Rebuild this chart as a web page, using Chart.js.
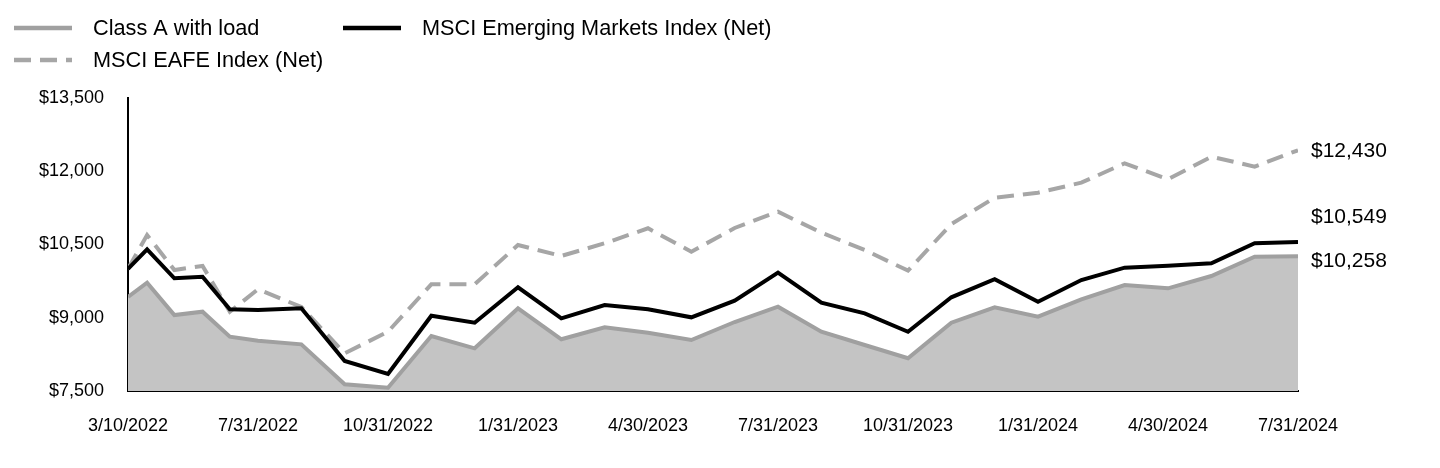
<!DOCTYPE html>
<html><head><meta charset="utf-8">
<script src="https://cdn.jsdelivr.net/npm/chart.js@4.4.1/dist/chart.umd.min.js"></script>
<style>
html,body{margin:0;padding:0;background:#fff;}
#wrap{position:relative;width:1440px;height:468px;}
canvas{display:block;}
</style></head><body>
<div id="wrap"><canvas id="c" width="1440" height="468"></canvas></div>
<script>
const dates = ['3/10/2022','3/31/2022','4/30/2022','5/31/2022','6/30/2022','7/31/2022','8/31/2022','9/30/2022','10/31/2022','11/30/2022','12/31/2022','1/31/2023','2/28/2023','3/31/2023','4/30/2023','5/31/2023','6/30/2023','7/31/2023','8/31/2023','9/30/2023','10/31/2023','11/30/2023','12/31/2023','1/31/2024','2/29/2024','3/31/2024','4/30/2024','5/31/2024','6/30/2024','7/31/2024'];
const classA = [9425, 9718, 9056, 9124, 8612, 8530, 8456, 7637, 7568, 8626, 8374, 9194, 8559, 8805, 8694, 8544, 8913, 9226, 8714, 8442, 8170, 8899, 9214, 9022, 9378, 9671, 9603, 9855, 10251, 10258];
const msciEM = [10000, 10402, 9808, 9841, 9173, 9159, 9194, 8114, 7848, 9042, 8899, 9624, 8989, 9261, 9173, 9009, 9349, 9923, 9308, 9091, 8714, 9419, 9788, 9329, 9773, 10025, 10066, 10115, 10525, 10549];
const msciEAFE = [10000, 10695, 9978, 10060, 9124, 9583, 9220, 8272, 8714, 9685, 9685, 10490, 10265, 10525, 10832, 10353, 10838, 11172, 10742, 10388, 9964, 10920, 11459, 11561, 11766, 12163, 11836, 12298, 12094, 12430];
const xTickLabels = ['3/10/2022','7/31/2022','10/31/2022','1/31/2023','4/30/2023','7/31/2023','10/31/2023','1/31/2024','4/30/2024','7/31/2024'];
const yTickValues = [7500, 9000, 10500, 12000, 13500];
const seriesNames = ['Class A with load','MSCI Emerging Markets Index (Net)','MSCI EAFE Index (Net)'];
const endLabels = ['$10,258','$10,549','$12,430'];

// Axis position: the first partial period (3/10 - 7/31/2022) spans 3 label slots proportionally by days,
// after that one slot per month (as in the reference axis).
function parseD(s){const [m,d,y]=s.split('/').map(Number);return {m,d,y,t:Date.UTC(y,m-1,d)};}
const start = parseD(dates[0]);
const anchor = parseD(xTickLabels[1]);
function axisPos(s){
  const p = parseD(s);
  if (p.t <= anchor.t) return 3 * (p.t - start.t) / (anchor.t - start.t);
  return 3 + (p.y - anchor.y) * 12 + (p.m - anchor.m);
}
const toXY = arr => arr.map((v,i)=>({x: axisPos(dates[i]), y: v}));

const FONT = "'Liberation Sans', Arial, sans-serif";
const GRAY_LINE = '#a0a0a0';
const GRAY_FILL = '#c4c4c4';
const DASH_GRAY = '#a6a6a6';

const legendPlugin = {
  id: 'customLegend',
  afterDraw(chart){
    const ctx = chart.ctx;
    const items = [
      {ds: 0, x: 14, y: 28},
      {ds: 1, x: 343, y: 28},
      {ds: 2, x: 14, y: 60}
    ];
    ctx.save();
    items.forEach(it=>{
      const ds = chart.data.datasets[it.ds];
      ctx.beginPath();
      ctx.strokeStyle = ds.borderColor;
      ctx.lineWidth = 4.5;
      ctx.setLineDash(ds.borderDash || []);
      ctx.moveTo(it.x, it.y); ctx.lineTo(it.x + 58, it.y);
      ctx.stroke();
      ctx.setLineDash([]);
      ctx.fillStyle = '#000';
      ctx.font = '21.7px ' + FONT;
      ctx.textBaseline = 'middle';
      ctx.textAlign = 'left';
      ctx.fillText(ds.label, it.x + 79, it.y + 1);
    });
    ctx.restore();
  }
};

const endLabelPlugin = {
  id: 'endLabels',
  afterDatasetsDraw(chart){
    const ctx = chart.ctx;
    const offsets = [5, -25, 1];
    ctx.save();
    ctx.font = '21px ' + FONT;
    ctx.fillStyle = '#000';
    ctx.textBaseline = 'middle';
    ctx.textAlign = 'left';
    chart.data.datasets.forEach((ds, i)=>{
      const meta = chart.getDatasetMeta(i);
      const pt = meta.data[meta.data.length - 1];
      ctx.fillText(endLabels[i], chart.chartArea.right + 13, pt.y + offsets[i]);
    });
    ctx.restore();
  }
};

new Chart(document.getElementById('c'), {
  type: 'line',
  data: {
    datasets: [
      {label: seriesNames[0], data: toXY(classA), borderColor: GRAY_LINE, backgroundColor: GRAY_FILL,
       fill: 'start', borderWidth: 4, pointRadius: 0, tension: 0, order: 2},
      {label: seriesNames[1], data: toXY(msciEM), borderColor: '#000000', backgroundColor: '#000000',
       fill: false, borderWidth: 4, pointRadius: 0, tension: 0, order: 0},
      {label: seriesNames[2], data: toXY(msciEAFE), borderColor: DASH_GRAY, backgroundColor: DASH_GRAY,
       fill: false, borderWidth: 4, borderDash: [17, 9], pointRadius: 0, tension: 0, order: 1}
    ]
  },
  options: {
    responsive: false,
    animation: false,
    events: [],
    layout: {padding: {left: 0, right: 142, top: 98, bottom: 0}},
    plugins: {legend: {display: false}, tooltip: {enabled: false}},
    scales: {
      x: {
        type: 'linear', min: 0, max: 27,
        grid: {display: false, drawTicks: false},
        border: {display: true, color: '#000', width: 2},
        afterFit: s => { s.height = 77; },
        afterBuildTicks: s => { s.ticks = xTickLabels.map((_, i) => ({value: i * 3})); },
        ticks: {
          autoSkip: false, maxRotation: 0, minRotation: 0, padding: 24,
          color: '#000', font: {family: FONT, size: 18},
          callback: v => xTickLabels[Math.round(v / 3)]
        }
      },
      y: {
        min: 7500, max: 13500,
        grid: {display: false, drawTicks: false},
        border: {display: true, color: '#000', width: 2},
        afterFit: s => { s.width = 128; },
        afterBuildTicks: s => { s.ticks = yTickValues.map(v => ({value: v})); },
        ticks: {
          padding: 24, color: '#000', font: {family: FONT, size: 18},
          callback: v => '$' + v.toLocaleString('en-US')
        }
      }
    }
  },
  plugins: [legendPlugin, endLabelPlugin]
});
</script>
</body></html>
